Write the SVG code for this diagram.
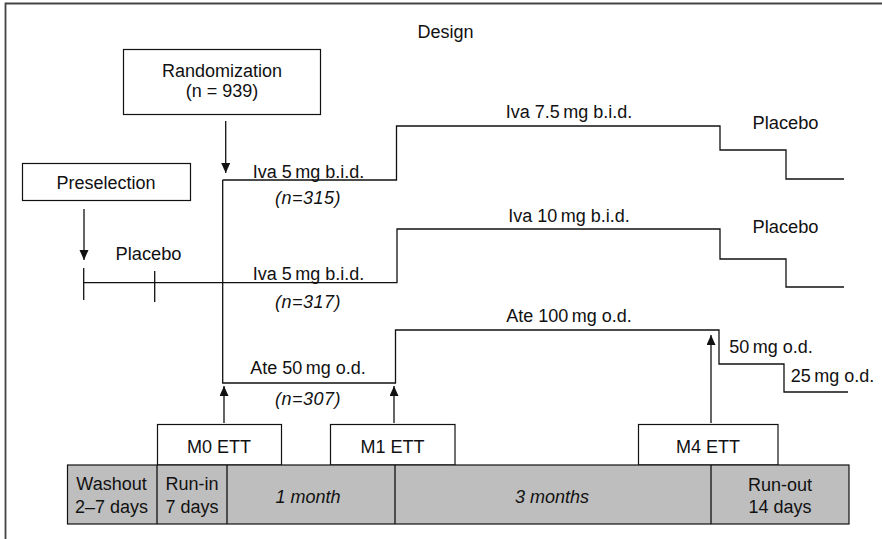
<svg xmlns="http://www.w3.org/2000/svg" width="882" height="539" viewBox="0 0 882 539">
<defs>
<marker id="ah" markerUnits="userSpaceOnUse" markerWidth="11" markerHeight="10" refX="10" refY="4.5" orient="auto">
<path d="M0,0 L10,4.5 L0,9 z" fill="#111"/>
</marker>
<style>
text{font-family:"Liberation Sans",Arial,Helvetica,sans-serif;fill:#111;}
.b{font-size:18px;text-anchor:middle;}
.a{font-size:18px;text-anchor:middle;}
.p{font-size:18.3px;text-anchor:middle;}
.n{font-size:18px;text-anchor:middle;font-style:italic;letter-spacing:0.5px;}
.i{font-style:italic;}
.box{fill:#fff;stroke:#111;stroke-width:1.2;}
.gray{fill:#bebebe;stroke:#111;stroke-width:1.2;}
.ln{fill:none;stroke:#111;stroke-width:1.3;}
.arr{fill:none;stroke:#111;stroke-width:1.3;marker-end:url(#ah);}
.frame{fill:none;stroke:#444;stroke-width:1.8;}
</style>
</defs>
<rect width="882" height="539" fill="#fff"/>
<path class="frame" d="M5.5,539 V3.5 H882"/>
<text class="b" x="445.5" y="38">Design</text>

<g id="randomization">
<rect class="box" x="123.5" y="49.5" width="197" height="65"/>
<text class="b" x="222" y="77">Randomization</text>
<text class="b" x="222" y="97">(n = 939)</text>
</g>
<g id="preselection">
<rect class="box" x="22.5" y="163.5" width="168" height="37"/>
<text class="b" x="106" y="189">Preselection</text>
</g>

<g id="arms">
<path class="ln" d="M222.7,180 V383 H395.5 V330 H719 V364 H784 V392 H848"/>
<path class="ln" d="M222.7,180 H396.5 V126 H720 V150 H786 V179 H844"/>
<path class="ln" d="M83.7,282.7 H397 V229 H720 V259 H786 V287 H844"/>
<path class="ln" d="M83.7,268 V300 M154.7,271 V302"/>
</g>

<g id="labels">
<text class="a" x="308.5" y="178">Iva 5&#8201;mg b.i.d.</text>
<text class="n" x="308" y="204">(n=315)</text>
<text class="p" x="148.5" y="260">Placebo</text>
<text class="a" x="308.5" y="280">Iva 5&#8201;mg b.i.d.</text>
<text class="n" x="308" y="308">(n=317)</text>
<text class="a" x="308" y="374">Ate 50&#8201;mg o.d.</text>
<text class="n" x="308" y="405">(n=307)</text>
<text class="a" x="569" y="118">Iva 7.5&#8201;mg b.i.d.</text>
<text class="p" x="785.5" y="129">Placebo</text>
<text class="a" x="569" y="222">Iva 10&#8201;mg b.i.d.</text>
<text class="p" x="785.5" y="233">Placebo</text>
<text class="a" x="569" y="322">Ate 100&#8201;mg o.d.</text>
<text class="a" x="771" y="353">50&#8201;mg o.d.</text>
<text class="a" x="832.5" y="382">25&#8201;mg o.d.</text>
</g>

<g id="connectors">
<line class="arr" x1="225.7" y1="121" x2="225.7" y2="173"/>
<line class="arr" x1="84" y1="209" x2="84" y2="260"/>
<line class="arr" x1="224" y1="423" x2="224" y2="386"/>
<line class="arr" x1="394" y1="423" x2="394" y2="386"/>
<line class="arr" x1="711" y1="423" x2="711" y2="335"/>
</g>

<g id="m0">
<rect class="box" x="157.5" y="424.5" width="124" height="40.5"/>
<text class="b" x="219" y="453">M0 ETT</text>
</g>
<g id="m1">
<rect class="box" x="330.5" y="424.5" width="124.5" height="40.5"/>
<text class="b" x="392.5" y="453">M1 ETT</text>
</g>
<g id="m4">
<rect class="box" x="638.5" y="424.5" width="139.5" height="40.5"/>
<text class="b" x="708" y="453">M4 ETT</text>
</g>

<g id="timeline">
<rect class="gray" x="67.5" y="465" width="781.5" height="59"/>
<path class="ln" d="M157,465 V524 M227,465 V524 M395,465 V524 M711,465 V524"/>
<text class="b" x="111.5" y="490">Washout</text>
<text class="b" x="111.5" y="513">2–7 days</text>
<text class="b" x="192" y="490">Run-in</text>
<text class="b" x="192" y="513">7 days</text>
<text class="b i" x="308" y="503">1 month</text>
<text class="b i" x="552" y="503">3 months</text>
<text class="b" x="780" y="491">Run-out</text>
<text class="b" x="780" y="513">14 days</text>
</g>
</svg>
